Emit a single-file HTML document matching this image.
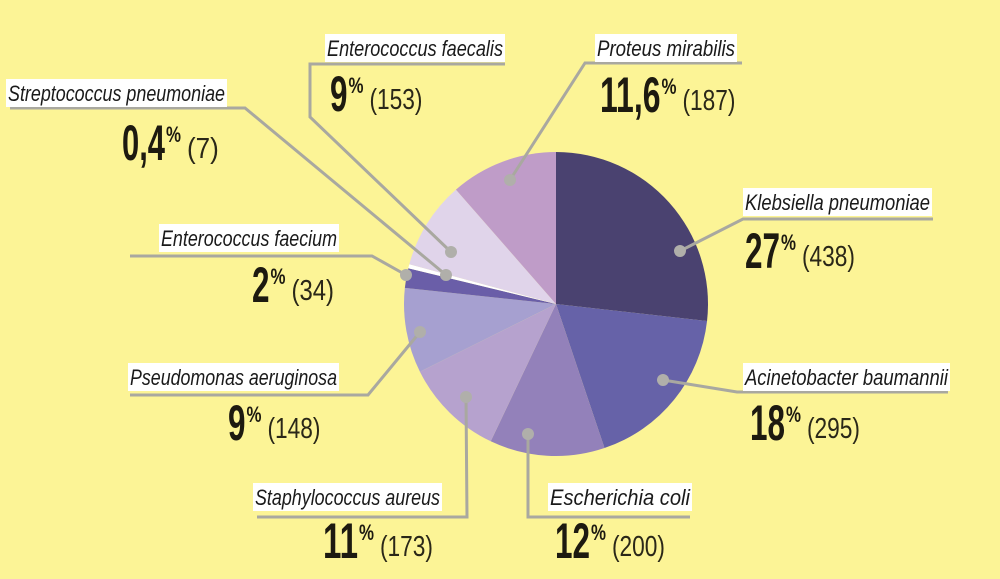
<!DOCTYPE html>
<html><head><meta charset="utf-8"><style>
html,body{margin:0;padding:0;background:#fcf496;}
svg{display:block;}
.nm{font-family:"Liberation Sans Narrow","Liberation Sans",sans-serif;font-style:italic;font-size:22px;fill:#1a1a1a;}
.big{font-family:"Liberation Sans Narrow","Liberation Sans",sans-serif;font-weight:bold;font-size:50px;fill:#1d1a10;}
.pc{font-family:"Liberation Sans Narrow","Liberation Sans",sans-serif;font-weight:bold;font-size:22px;fill:#1d1a10;}
.cnt{font-family:"Liberation Sans Narrow","Liberation Sans",sans-serif;font-size:29px;fill:#2a2718;}
</style></head><body>
<svg id="chart" width="1000" height="579" viewBox="0 0 1000 579" xmlns="http://www.w3.org/2000/svg">
<rect width="1000" height="579" fill="#fcf496"/>
<g id="slices"></g>
<g id="leaders"></g>
<g id="labels"></g>
</svg>
<script>
const names = ["Klebsiella pneumoniae","Acinetobacter baumannii","Escherichia coli","Staphylococcus aureus","Pseudomonas aeruginosa","Enterococcus faecium","Streptococcus pneumoniae","Enterococcus faecalis","Proteus mirabilis"];
const counts = [438,295,200,173,148,34,7,153,187];
const pctLabels = ["27","18","12","11","9","2","0,4","9","11,6"];
const colors = ["#4a4270","#6662a8","#9381ba","#b6a2ce","#a6a0d0","#6a5ea8","#ffffff","#e0d4ea","#bf9cc8"];

const NS = "http://www.w3.org/2000/svg";
const cx = 556, cy = 304, R = 152;
function pt(a, r){ return [cx + r*Math.sin(a), cy - r*Math.cos(a)]; }
function mk(tag, attrs, parent){ const e=document.createElementNS(NS,tag); for(const k in attrs) e.setAttribute(k,attrs[k]); parent.appendChild(e); return e; }

const total = counts.reduce((a,b)=>a+b,0);
const sg = document.getElementById("slices");
let acc = 0;
counts.forEach((v,i)=>{
  const a0 = acc/total*2*Math.PI; acc += v; const a1 = acc/total*2*Math.PI;
  const p0 = pt(a0,R), p1 = pt(a1,R);
  const large = (a1-a0) > Math.PI ? 1 : 0;
  const p = mk("path",{d:`M${cx},${cy} L${p0[0]},${p0[1]} A${R},${R} 0 ${large} 1 ${p1[0]},${p1[1]} Z`, fill:colors[i]}, sg);
  
  
});

// callout layout: name x, name baseline, name width, number x, number baseline, leader polyline
const layout = [
  [745,210,185,745,268,"933,219 743,219 680,251"],
  [745,385,203,750,440,"948,392 737,392 663,380"],
  [550,505,140,555,558,"690,517 528,517 528,434"],
  [255,505,185,323,558,"257,517 467,517 466,397"],
  [130,385,207,228,440,"130,395 368,395 420,332"],
  [161,246,176,252,302,"130,256 372,256 406,275"],
  [8,101,217,122,160,"10,108 245,108 446,275"],
  [327,56,176,330,111,"505,64 310,64 310,117 451,252"],
  [597,56,138,600,112,"742,63 585,63 510,180"]
];
const lg = document.getElementById("leaders");
const lb = document.getElementById("labels");
layout.forEach((L,i)=>{
  const slug = names[i].toLowerCase().replace(/ /g,'-');
  const pl = mk("polyline",{points:L[5],fill:"none",stroke:"#a9a8a0","stroke-width":3}, lg);
  
  
  const pts = L[5].split(" "); const end = pts[pts.length-1].split(",");
  const dot = mk("circle",{cx:end[0],cy:end[1],r:6,fill:"#b0afaa"}, lg);
  
  

  const box = mk("rect",{x:L[0]-2,y:L[1]-22,width:L[2]+4,height:28,fill:"#ffffff"}, lb);
  
  
  const nm = mk("text",{x:L[0],y:L[1],class:"nm",textLength:L[2],lengthAdjust:"spacingAndGlyphs"}, lb);
  nm.textContent = names[i];
  
  

  const s = pctLabels[i];
  const w = s.replace(/,/g,"").length*17.5 + (s.split(",").length-1)*8;
  const big = mk("text",{x:L[3],y:L[4],class:"big",textLength:w,lengthAdjust:"spacingAndGlyphs"}, lb);
  big.textContent = s;
  
  
  const pc = mk("text",{x:L[3]+w+1,y:L[4]-18,class:"pc",textLength:15,lengthAdjust:"spacingAndGlyphs"}, lb);
  pc.textContent = "%";
  
  
  const cs = "(" + counts[i] + ")";
  const ct = mk("text",{x:L[3]+w+22,y:L[4]-2,class:"cnt",textLength:cs.length*10.6,lengthAdjust:"spacingAndGlyphs"}, lb);
  ct.textContent = cs;
  
  
});
</script>
</body></html>
